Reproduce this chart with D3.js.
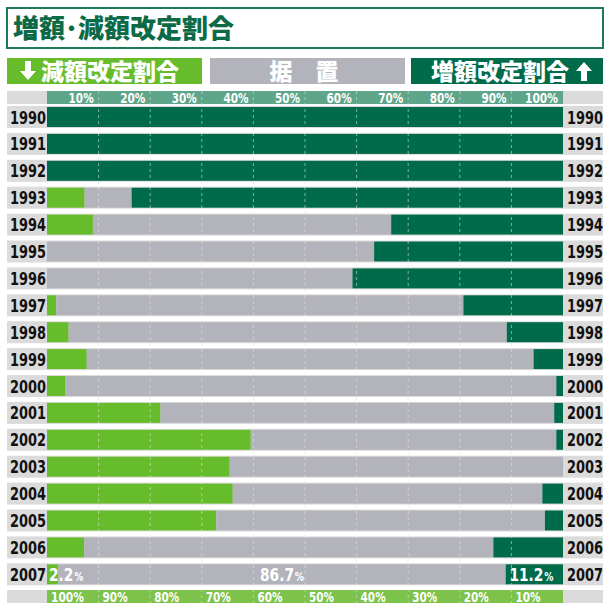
<!DOCTYPE html>
<html>
<head>
<meta charset="utf-8">
<script src="https://cdn.jsdelivr.net/npm/d3@7"></script>
<style>
  body { margin: 0; background: #fff; }
  svg { display: block; }
</style>
</head>
<body>
<div id="chart"></div>
<script>
const years = [1990, 1991, 1992, 1993, 1994, 1995, 1996, 1997, 1998, 1999,
  2000, 2001, 2002, 2003, 2004, 2005, 2006, 2007];
// 減額改定割合 (%)
const decrease = [0, 0, 0, 7.3, 8.9, 0, 0, 1.8, 4.2, 7.7, 3.6, 22.0, 39.5, 35.4, 36.0, 32.8, 7.2, 2.2];
// 据置 (%)
const unchanged = [0, 0, 0, 9.1, 57.8, 63.4, 59.2, 78.9, 84.9, 86.6, 95.1, 76.3, 59.2, 64.6, 60.0, 63.7, 79.3, 86.7];
// 増額改定割合 (%)
const increase = [100, 100, 100, 83.6, 33.3, 36.6, 40.8, 19.3, 10.9, 5.7, 1.3, 1.7, 1.3, 0, 4.0, 3.5, 13.5, 11.2];
const topTicks = [10, 20, 30, 40, 50, 60, 70, 80, 90, 100];
const bottomTicks = [100, 90, 80, 70, 60, 50, 40, 30, 20, 10];

const width = 610;
const height = 610;

const colors = {
  dec: "#67bc2b",
  flat: "#b3b3bc",
  inc: "#006b4b",
  rowBg: "#dcdbdb",
  topBand: "#5fa58a",
  bottomBand: "#7dc24a",
  title: "#0d6a47"
};

const svg = d3.select("#chart")
  .append("svg")
  .attr("width", width)
  .attr("height", height);

const numFont = "'DejaVu Sans Condensed', 'Liberation Sans Narrow', sans-serif";
const jpFont = "'Noto Sans CJK JP', sans-serif";

// title box
svg.append("rect")
  .attr("x", 7).attr("y", 8)
  .attr("width", 596).attr("height", 40)
  .attr("fill", "#fff")
  .attr("stroke", "#1d7a55")
  .attr("stroke-width", 2);

svg.append("text")
  .attr("x", 13).attr("y", 38)
  .attr("font-family", jpFont)
  .attr("font-weight", 900)
  .attr("font-size", "26px")
  .attr("fill", colors.title)
  .text("増額･減額改定割合");

// header boxes
const headers = [
  { x: 7, w: 195, fill: colors.dec },
  { x: 210, w: 195, fill: colors.flat },
  { x: 411, w: 192, fill: colors.inc }
];
svg.selectAll("rect.header")
  .data(headers)
  .enter()
  .append("rect")
  .attr("class", "header")
  .attr("x", d => d.x).attr("y", 58)
  .attr("width", d => d.w).attr("height", 26)
  .attr("fill", d => d.fill);

const headText = svg.append("g")
  .attr("font-family", jpFont)
  .attr("font-weight", 900)
  .attr("font-size", "23px")
  .attr("fill", "#fff");

headText.append("text").attr("x", 41).attr("y", 80).text("減額改定割合");
headText.append("text").attr("x", 304).attr("y", 80).attr("text-anchor", "middle").text("据　置");
headText.append("text").attr("x", 431).attr("y", 80).text("増額改定割合");

// arrows
const arrowPath = "M-3,-10 L3,-10 L3,0 L8,0 L0,9 L-8,0 L-3,0 Z";
svg.append("path")
  .attr("d", arrowPath)
  .attr("transform", "translate(28,71)")
  .attr("fill", "#fff");
svg.append("path")
  .attr("d", arrowPath)
  .attr("transform", "translate(584,71) rotate(180)")
  .attr("fill", "#fff");

// scales
const x = d3.scaleLinear().domain([0, 100]).range([47, 563]).clamp(true);
const y = d3.scaleBand().domain(years).range([103.5, 103.5 + 18 * 26.9]);

const rows = years.map((yr, i) => ({
  year: yr, dec: decrease[i], flat: unchanged[i], inc: increase[i]
}));
const keys = ["dec", "flat", "inc"];
const series = d3.stack().keys(keys)(rows);

// top axis band
svg.append("rect").attr("x", 7).attr("y", 91).attr("width", 596).attr("height", 13).attr("fill", colors.rowBg);
svg.append("rect").attr("x", x(0)).attr("y", 91).attr("width", x(100) - x(0)).attr("height", 13).attr("fill", colors.topBand);

// bottom axis band
svg.append("rect").attr("x", 7).attr("y", 590).attr("width", 596).attr("height", 13).attr("fill", colors.rowBg);
svg.append("rect").attr("x", x(0)).attr("y", 590).attr("width", x(100) - x(0)).attr("height", 13).attr("fill", colors.bottomBand);

// row backgrounds
svg.selectAll("rect.rowbg")
  .data(years)
  .enter()
  .append("rect")
  .attr("class", "rowbg")
  .attr("x", 7)
  .attr("y", d => y(d) + 2.5)
  .attr("width", 596)
  .attr("height", 22)
  .attr("fill", colors.rowBg);

// stacked bars
svg.selectAll("g.series")
  .data(series)
  .enter()
  .append("g")
  .attr("class", "series")
  .attr("fill", d => colors[d.key])
  .selectAll("rect")
  .data(d => d)
  .enter()
  .append("rect")
  .attr("x", d => x(d[0]))
  .attr("y", d => y(d.data.year) + 3.5)
  .attr("width", d => Math.max(0, x(d[1]) - x(d[0])))
  .attr("height", 20);

// gridlines
svg.selectAll("line.grid")
  .data(d3.range(10, 100, 10))
  .enter()
  .append("line")
  .attr("class", "grid")
  .attr("x1", d => x(d)).attr("x2", d => x(d))
  .attr("y1", 91).attr("y2", 603)
  .attr("stroke", "#e6e6e6")
  .attr("stroke-opacity", 0.7)
  .attr("stroke-width", 0.8)
  .attr("stroke-dasharray", "3,3");

// axis labels
svg.selectAll("text.topTick")
  .data(topTicks)
  .enter()
  .append("text")
  .attr("class", "topTick")
  .attr("x", d => x(d) - 5)
  .attr("y", 103)
  .attr("text-anchor", "end")
  .attr("font-family", numFont)
  .attr("font-weight", "bold")
  .attr("font-size", "14px")
  .attr("textLength", d => String(d).length * 8 + 9)
  .attr("lengthAdjust", "spacingAndGlyphs")
  .attr("fill", "#fff")
  .text(d => d + "%");

svg.selectAll("text.bottomTick")
  .data(bottomTicks)
  .enter()
  .append("text")
  .attr("class", "bottomTick")
  .attr("x", d => x(100 - d) + 4)
  .attr("y", 602)
  .attr("font-family", numFont)
  .attr("font-weight", "bold")
  .attr("font-size", "14px")
  .attr("textLength", d => String(d).length * 8 + 9)
  .attr("lengthAdjust", "spacingAndGlyphs")
  .attr("fill", "#fff")
  .text(d => d + "%");

// year labels (narrowed horizontally)
const yearText = svg.append("g")
  .attr("font-family", numFont)
  .attr("font-weight", "bold")
  .attr("font-size", "18px")
  .attr("fill", "#111");

yearText.selectAll("text.left")
  .data(years)
  .enter()
  .append("text")
  .attr("class", "left")
  .attr("transform", d => `translate(10,${y(d) + 20}) scale(0.8,1)`)
  .text(d => d);

yearText.selectAll("text.right")
  .data(years)
  .enter()
  .append("text")
  .attr("class", "right")
  .attr("transform", d => `translate(567,${y(d) + 20}) scale(0.8,1)`)
  .text(d => d);

// value labels for the last year
const last = rows[rows.length - 1];
const lastY = y(last.year) + 20;
const lastLabels = [
  { v: last.dec, x: x(0) + 2, anchor: "start" },
  { v: last.flat, x: (x(last.dec) + x(last.dec + last.flat)) / 2, anchor: "middle" },
  { v: last.inc, x: (x(last.dec + last.flat) + x(100)) / 2 - 3, anchor: "middle" }
];
const lbl = svg.selectAll("text.val")
  .data(lastLabels)
  .enter()
  .append("text")
  .attr("class", "val")
  .attr("transform", d => `translate(${d.x},${lastY}) scale(0.85,1)`)
  .attr("text-anchor", d => d.anchor)
  .attr("font-family", numFont)
  .attr("font-weight", "bold")
  .attr("font-size", "18px")
  .attr("fill", "#fff");
lbl.append("tspan").text(d => d.v.toFixed(1));
lbl.append("tspan").attr("font-size", "12px").attr("dx", 1).text("%");
</script>
</body>
</html>
